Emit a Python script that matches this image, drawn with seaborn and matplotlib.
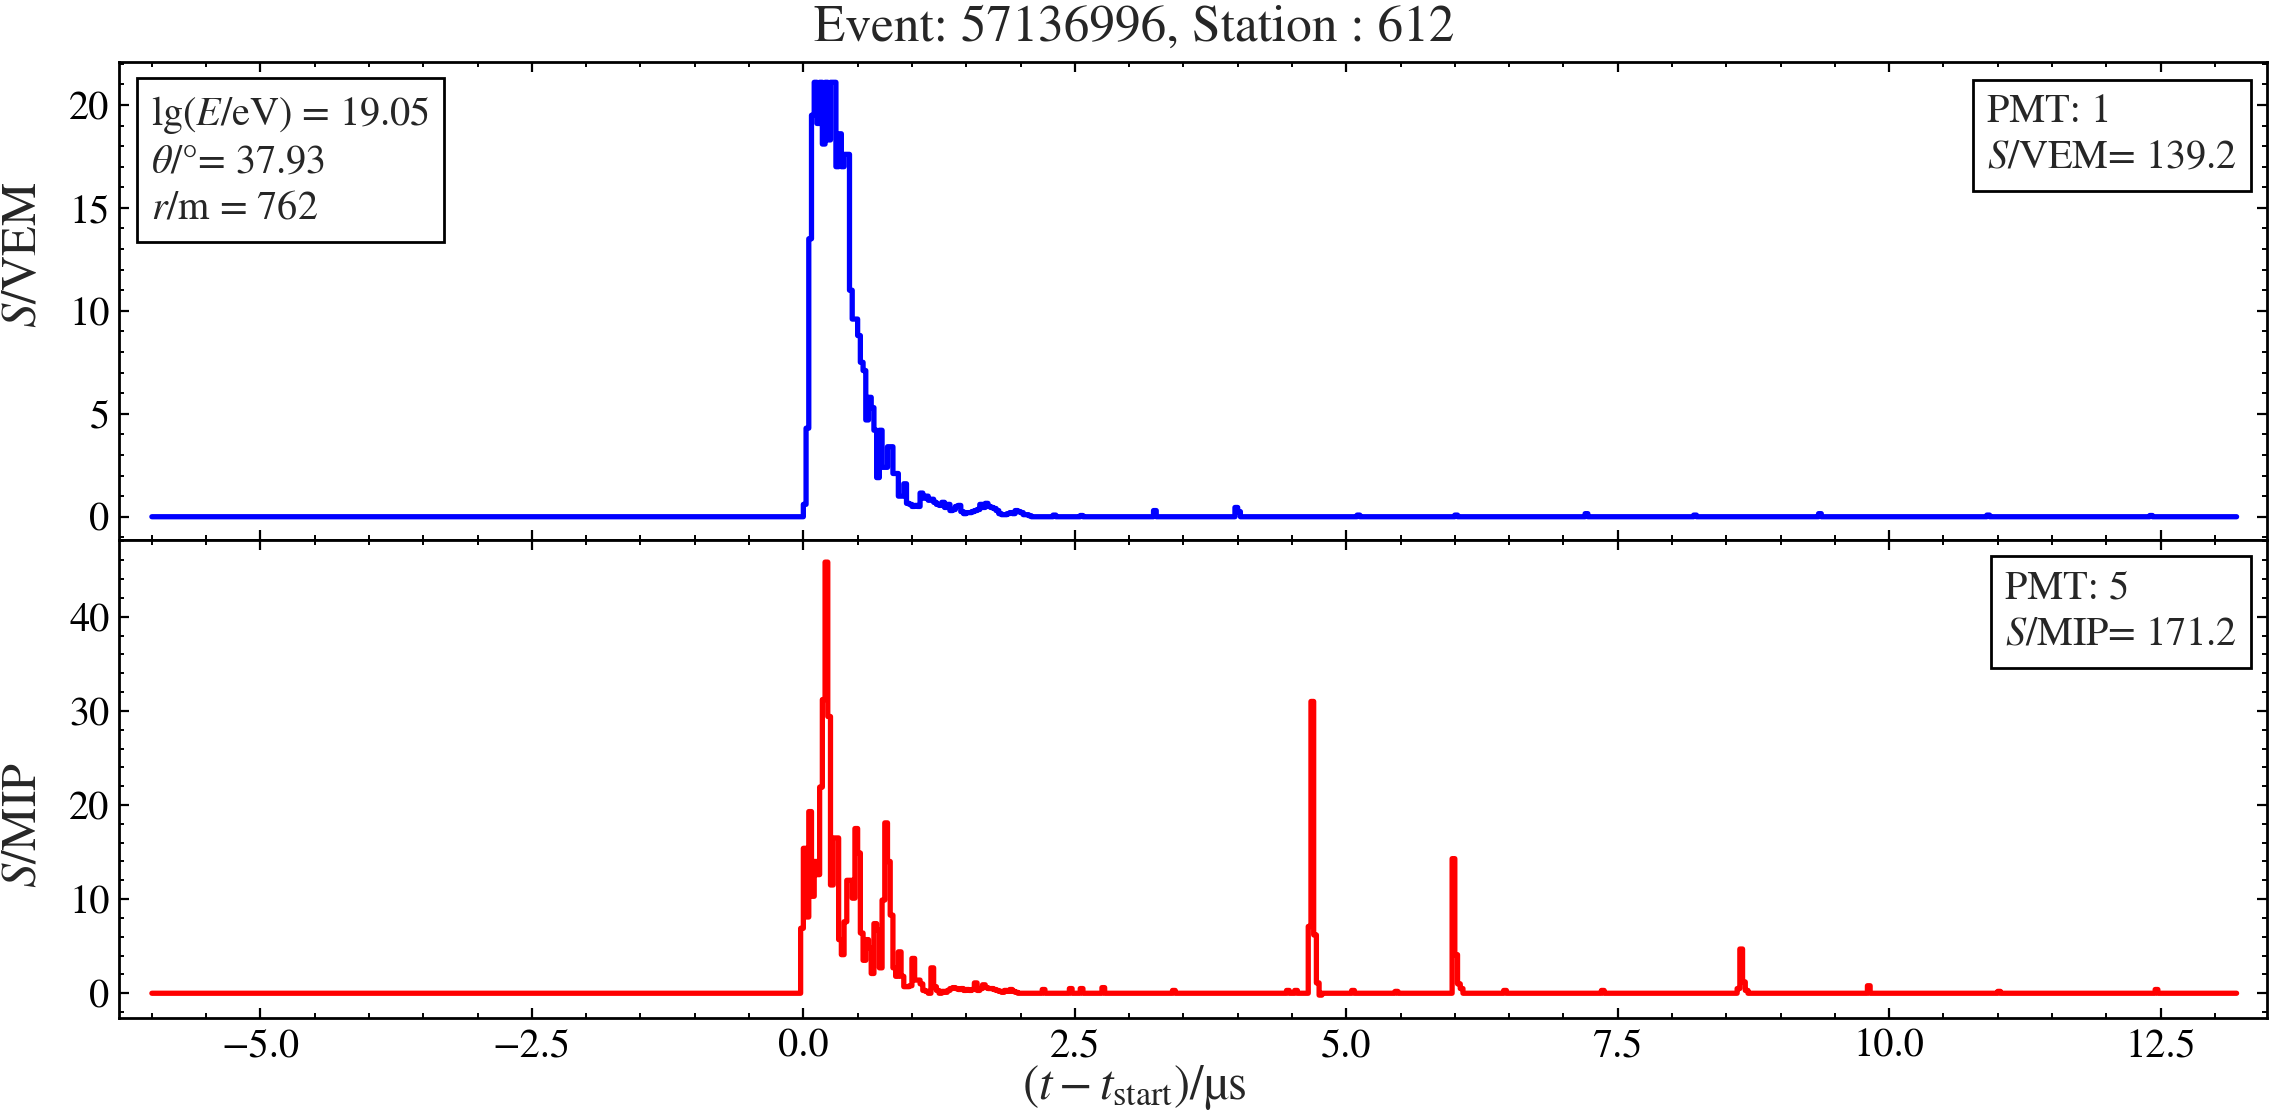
import numpy as np
import pandas as pd
import seaborn as sns
import matplotlib
matplotlib.use("Agg")
import matplotlib.pyplot as plt
from matplotlib.ticker import MultipleLocator

# ---------------- data ----------------
T_START = -6.0          # us, first sample
BIN_WIDTH = 0.025       # us, 25 ns sampling
N_BINS = 768            # samples in the trace (-6 .. 13.2 us)

# WCD PMT 1 trace in VEM, samples starting at t = 0.0 us
VEM_PULSE_T0 = 0.0
VEM_PULSE = [0.6, 4.3, 13.5, 19.5, 21.1, 19.1, 21.1, 18.1, 21.1, 18.3, 21.1, 21.1,
             17.0, 18.6, 17.0, 17.6, 17.6, 11.0, 9.6, 9.6, 8.8, 7.5, 7.1, 4.7, 5.8,
             5.3, 4.2, 1.9, 4.2, 2.4, 2.4, 3.4, 3.4, 2.1, 2.1, 1.0, 1.0, 1.6, 0.65,
             0.6, 0.5, 0.55, 0.5, 1.15, 0.9, 1.0, 0.8, 0.85, 0.7, 0.6, 0.55, 0.7,
             0.45, 0.6, 0.3, 0.35, 0.5, 0.55, 0.25, 0.15, 0.2, 0.2, 0.25, 0.3, 0.35,
             0.6, 0.45, 0.65, 0.5, 0.45, 0.4, 0.3, 0.15, 0.1, 0.1, 0.15, 0.2, 0.15,
             0.3, 0.25, 0.2, 0.1, 0.1, 0.05]
VEM_BLIP_T = [2.30, 2.55, 3.22, 3.975, 4.0, 5.10, 6.00, 7.20, 8.20, 9.35, 10.9, 12.4]
VEM_BLIP_V = [0.08, 0.06, 0.30, 0.45, 0.25, 0.08, 0.08, 0.15, 0.08, 0.15, 0.08, 0.06]

# SSD PMT 5 trace in MIP, samples starting at t = -0.025 us
MIP_PULSE_T0 = -0.025
MIP_PULSE = [6.9, 15.4, 8.1, 19.3, 10.3, 14.0, 12.6, 21.9, 31.2, 45.8, 29.4, 11.5,
             16.5, 16.5, 5.7, 4.1, 7.6, 12.0, 12.0, 10.1, 17.5, 14.9, 6.4, 3.5, 5.7,
             4.8, 2.1, 7.4, 6.7, 2.7, 9.9, 18.1, 14.0, 8.3, 2.7, 1.8, 4.4, 1.8, 0.7,
             0.7, 0.8, 3.7, 1.4, 1.4, 1.0, 0.3, 0.2, 0.0, 2.7, 0.7, 0.3, 0.0, 0.2,
             0.1, 0.3, 0.5, 0.6, 0.5, 0.4, 0.5, 0.3, 0.4, 0.3, 0.4, 1.1, 0.3, 0.5,
             0.9, 0.6, 0.5, 0.5, 0.4, 0.3, 0.2, 0.1, 0.3, 0.2, 0.4, 0.2, 0.1]
MIP_SPIKE_T0 = [4.650, 5.975, 8.600]
MIP_SPIKE_V = [[7.1, 31.0, 6.2, 1.1, -0.2],
               [14.3, 4.1, 1.0, 0.5],
               [0.5, 4.7, 1.2, 0.3]]
MIP_BLIP_T = [2.20, 2.45, 2.55, 2.75, 3.40, 4.44, 4.53, 5.04, 5.45, 6.46, 7.35,
              9.80, 11.0, 12.45]
MIP_BLIP_V = [0.4, 0.5, 0.5, 0.6, 0.3, 0.3, 0.3, 0.3, 0.2, 0.3, 0.3, 0.8, 0.2, 0.4]

UPPER_INFO = r"$\lg(E/\mathrm{eV})$ = 19.05" + "\n" + r"$\theta/°$= 37.93" + "\n" + r"$r/\mathrm{m}$ = 762"
PMT1_INFO = "PMT: 1\n" + r"$S/\mathrm{VEM}$= 139.2"
PMT5_INFO = "PMT: 5\n" + r"$S/\mathrm{MIP}$= 171.2"
TITLE = "Event: 57136996, Station : 612"


def build_trace(pulse_t0, pulse, spikes_t0=(), spikes_v=(), blip_t=(), blip_v=()):
    vals = np.zeros(N_BINS)
    i0 = int(round((pulse_t0 - T_START) / BIN_WIDTH))
    vals[i0:i0 + len(pulse)] = pulse
    for t0, seg in zip(spikes_t0, spikes_v):
        j = int(round((t0 - T_START) / BIN_WIDTH))
        vals[j:j + len(seg)] = seg
    for t, v in zip(blip_t, blip_v):
        j = int(round((t - T_START) / BIN_WIDTH))
        vals[j] = v
    edges = T_START + BIN_WIDTH * np.arange(N_BINS + 1)
    return pd.DataFrame({"t": edges, "s": np.append(vals, vals[-1])})


vem = build_trace(VEM_PULSE_T0, VEM_PULSE, blip_t=VEM_BLIP_T, blip_v=VEM_BLIP_V)
mip = build_trace(MIP_PULSE_T0, MIP_PULSE, MIP_SPIKE_T0, MIP_SPIKE_V, MIP_BLIP_T, MIP_BLIP_V)

# ---------------- style ----------------
sns.set_style("ticks")
plt.rcParams.update({
    "font.family": ["STIXGeneral", "DejaVu Serif"],
    "mathtext.fontset": "stix",
    "axes.linewidth": 1.0,
    "xtick.direction": "in", "ytick.direction": "in",
    "xtick.top": True, "ytick.right": True,
    "xtick.major.size": 3.5, "ytick.major.size": 3.5,
    "xtick.minor.size": 1.8, "ytick.minor.size": 1.8,
    "xtick.major.width": 0.8, "ytick.major.width": 0.8,
    "xtick.minor.width": 0.7, "ytick.minor.width": 0.7,
    "xtick.labelsize": 14.5, "ytick.labelsize": 14.5,
    "axes.edgecolor": "black",
    "xtick.color": "black", "ytick.color": "black",
})

W, H, DPI = 2269, 1116, 200
fig = plt.figure(figsize=(W / DPI, H / DPI), dpi=DPI)
left, right = 119.3 / W, 2267.0 / W
top, mid, bottom = 1 - 61.7 / H, 1 - 540.0 / H, 1 - 1018.3 / H
ax1 = fig.add_axes([left, mid, right - left, top - mid])
ax2 = fig.add_axes([left, bottom, right - left, mid - bottom], sharex=ax1)

sns.lineplot(data=vem, x="t", y="s", ax=ax1, color="#0000ff", lw=1.9,
             drawstyle="steps-post", estimator=None, sort=False, legend=False)
sns.lineplot(data=mip, x="t", y="s", ax=ax2, color="#ff0000", lw=1.9,
             drawstyle="steps-post", estimator=None, sort=False, legend=False)

ax1.set_xlim(-6.3, 13.48)
ax1.set_ylim(-1.13, 22.1)
ax2.set_ylim(-2.66, 48.15)

for ax in (ax1, ax2):
    ax.xaxis.set_major_locator(MultipleLocator(2.5))
    ax.xaxis.set_minor_locator(MultipleLocator(0.5))
    ax.tick_params(which="both", direction="in", top=True, right=True)
    for sp in ax.spines.values():
        sp.set_visible(True)
        sp.set_linewidth(1.0)
ax1.yaxis.set_major_locator(MultipleLocator(5))
ax1.yaxis.set_minor_locator(MultipleLocator(1))
ax2.yaxis.set_major_locator(MultipleLocator(10))
ax2.yaxis.set_minor_locator(MultipleLocator(2))
ax1.tick_params(labelbottom=False)

# label positions: centred on the figure / shifted as in the reference
fig_center_x = (W / 2 - 119.3) / (2267.0 - 119.3)
ax1.set_xlabel("")
ax1.set_ylabel(r"$S/\mathrm{VEM}$", fontsize=17.5, labelpad=8, y=0.596)
ax2.set_ylabel(r"$S/\mathrm{MIP}$", fontsize=17.5, labelpad=8, y=0.404)
ax2.set_xlabel(r"$(t-t_{\mathrm{start}})/$µs", fontsize=17.5, labelpad=-1, x=fig_center_x)
fig.text(0.5, 1 - 40.5 / H, TITLE, fontsize=18.5, ha="center", va="baseline")

box = dict(boxstyle="square,pad=0.35", fc="white", ec="black", lw=1.0)
ax1.annotate(UPPER_INFO, xy=(0, 1), xycoords="axes fraction", xytext=(11.5, -11.5),
             textcoords="offset points", ha="left", va="top", fontsize=14.5,
             bbox=box, linespacing=1.3, multialignment="left")
ax1.annotate(PMT1_INFO, xy=(1, 1), xycoords="axes fraction", xytext=(-10.8, -11.5),
             textcoords="offset points", ha="right", va="top", fontsize=14.5,
             bbox=box, linespacing=1.3, multialignment="left")
ax2.annotate(PMT5_INFO, xy=(1, 1), xycoords="axes fraction", xytext=(-10.8, -11.0),
             textcoords="offset points", ha="right", va="top", fontsize=14.5,
             bbox=box, linespacing=1.3, multialignment="left")

fig.savefig("out.png", dpi=DPI)
